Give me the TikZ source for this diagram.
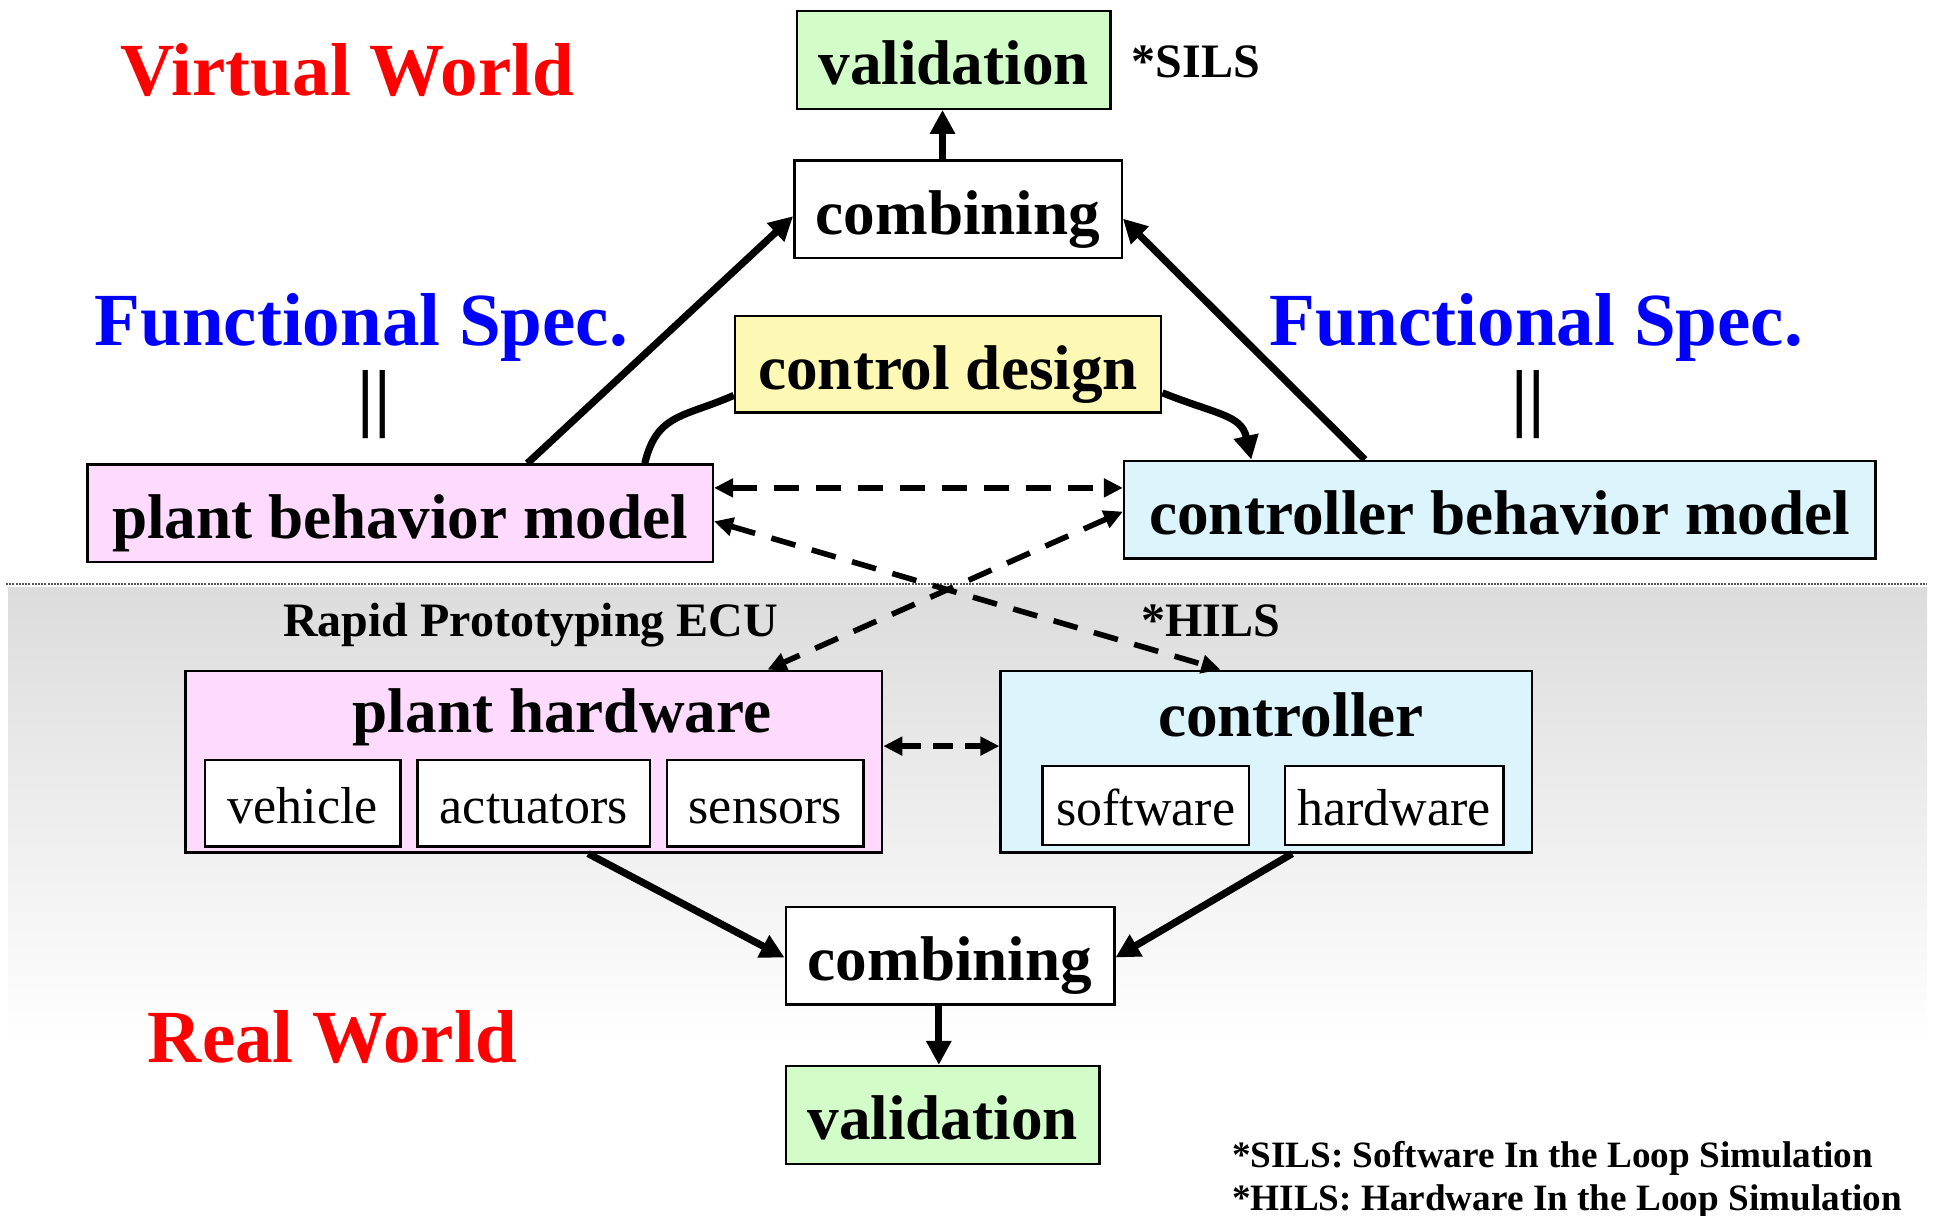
\documentclass[tikz,border=0pt]{standalone}
\usepackage{fontspec}
\setmainfont{Liberation Serif}
\usetikzlibrary{arrows.meta,calc}
\definecolor{valgreen}{HTML}{D2FDC8}
\definecolor{cdyellow}{HTML}{FDF9B4}
\definecolor{pinkfill}{HTML}{FEDBFE}
\definecolor{cyanfill}{HTML}{DCF5FC}
\definecolor{bggray}{HTML}{DCDCDC}
\definecolor{dotgray}{HTML}{555555}
\newcommand{\boxfont}{\fontsize{31.6}{36}\selectfont\bfseries}
\newcommand{\subfont}{\fontsize{26}{30}\selectfont}
\newcommand{\headfont}{\fontsize{37.5}{40}\selectfont\bfseries}
\newcommand{\lblfont}{\fontsize{24}{28}\selectfont\bfseries}
\newcommand{\notefont}{\fontsize{18.6}{22}\selectfont\bfseries}
\begin{document}
\begin{tikzpicture}[x=0.5pt,y=-0.5pt,
  box/.style={draw=black, line width=1.2pt, inner sep=0pt, text height=27pt, text depth=2pt, font=\boxfont},
  subbox/.style={draw=black, line width=1.2pt, fill=white, inner sep=0pt, text height=22pt, text depth=2pt, font=\subfont},
  thickarrow/.style={line width=3.6pt, -{Triangle[length=12pt,width=12pt]}},
  thickline/.style={line width=3.6pt},
  dasharrow/.style={line width=2.8pt, dash pattern=on 12.5pt off 8.5pt, {Triangle[length=9.5pt,width=9pt]}-{Triangle[length=9.5pt,width=9pt]}},
  heading/.style={font=\headfont, inner sep=0pt, anchor=base},
  lbl/.style={font=\lblfont, inner sep=0pt, anchor=base},
  note/.style={font=\notefont, inner sep=0pt, anchor=base west},
]
\useasboundingbox (0,0) rectangle (1937,1215);
\fill[white] (0,0) rectangle (1937,1215);
% real-world background
\shade[top color=bggray, bottom color=white] (8,587) rectangle (1927,1045);
\draw[dotgray, line width=1pt, dash pattern=on 1pt off 0.6pt] (6,584) -- (1927,584);

% headings
\node[heading, red] (vw) at (347.1,95.1) {Virtual World};
\node[heading, red] (rw) at (332.3,1062.4) {Real World};
\node[heading, blue] (fsl) at (361.3,345.9) {Functional Spec.};
\node[heading, blue] (fsr) at (1536.1,345.9) {Functional Spec.};
\node[font=\headfont, inner sep=0pt] (eql) at (374.3,404.6) {||};
\node[font=\headfont, inner sep=0pt] (eqr) at (1528.1,404.6) {||};

% virtual world boxes
\node[box, fill=valgreen, minimum width=156.9pt, minimum height=48.8pt] (valTop) at (953.7,59.9) {validation};
\node[lbl, anchor=base west] (sils) at (1131.5,77.8) {*SILS};
\node[box, fill=white, minimum width=163.7pt, minimum height=48.8pt] (combTop) at (958,209.4) {combining};
\node[box, fill=cdyellow, minimum width=213.1pt, minimum height=48.2pt] (ctrlDesign) at (948.1,364.4) {control design};
\node[box, fill=pinkfill, minimum width=312.6pt, minimum height=48.8pt] (plantBM) at (400.2,513.3) {plant behavior model};
\node[box, fill=cyanfill, minimum width=375.6pt, minimum height=48.8pt] (ctrlBM) at (1499.7,509.6) {controller behavior model};

% real world boxes
\node[lbl] (rpecu) at (530.6,636.2) {Rapid Prototyping ECU};
\node[lbl] (hils) at (1210.6,636.2) {*HILS};
\node[box, fill=pinkfill, minimum width=348.4pt, minimum height=90.8pt] (plantHW) at (533.7,761.6) {};
\node[box, fill=cyanfill, minimum width=265.6pt, minimum height=90.8pt] (ctrlHW) at (1266.2,761.6) {};
\node[font=\boxfont, inner sep=0pt, anchor=base] (phTitle) at (562,732.5) {plant hardware};
\node[font=\boxfont, inner sep=0pt, anchor=base] (chTitle) at (1290.9,736.2) {controller};
\node[subbox, minimum width=97.6pt, minimum height=43.3pt] (vehicle) at (302.7,803) {vehicle};
\node[subbox, minimum width=116.2pt, minimum height=43.3pt] (actuators) at (533.7,803) {actuators};
\node[subbox, minimum width=98.2pt, minimum height=43.3pt] (sensors) at (765.3,803) {sensors};
\node[subbox, minimum width=103.2pt, minimum height=39.6pt] (software) at (1145.8,805.5) {software};
\node[subbox, minimum width=109.4pt, minimum height=39.6pt] (hardware) at (1394.1,805.5) {hardware};
\node[box, fill=white, minimum width=164.3pt, minimum height=48.8pt] (combBot) at (950,955.5) {combining};
\node[box, fill=valgreen, minimum width=156.9pt, minimum height=48.8pt] (valBot) at (942.6,1114.9) {validation};

% footnotes
\node[note] (n1) at (1231.6,1167.4) {*SILS: Software In the Loop Simulation};
\node[note] (n2) at (1231.6,1210.6) {*HILS: Hardware In the Loop Simulation};

% helper coordinates
\coordinate (tx) at (942.5,0);
\coordinate (vx) at (938.8,0);
\coordinate (hy) at (0,487.9);

% virtual world connectors
\draw[thickarrow] (combTop.north -| tx) -- (valTop.south -| tx);
\draw[thickarrow] ([xshift=63.6pt]plantBM.north) -- ([yshift=-3.4pt]combTop.west);
\draw[thickarrow] ([xshift=-67.4pt]ctrlBM.north) -- ([yshift=-4.6pt]combTop.east);
\draw[thickline] ([xshift=122.3pt]plantBM.north) .. controls +(12,-50) and +(-50,22) .. ([yshift=-15.5pt]ctrlDesign.west);
\draw[thickarrow] ([yshift=-14.2pt]ctrlDesign.east) .. controls +(55,22) and +(-10,-45) .. ([xshift=-124.2pt]ctrlBM.north);
\draw[dasharrow] (plantBM.east |- hy) -- (ctrlBM.west |- hy);
\draw[dasharrow] ([yshift=-4pt]plantBM.east) -- ([xshift=-22.9pt]ctrlHW.north);
\draw[dasharrow] ([yshift=-1pt]ctrlBM.west) -- ([xshift=116.9pt]plantHW.north);

% real world connectors
\draw[dasharrow, dash pattern=on 10pt off 6pt] ([yshift=7.75pt]plantHW.east) -- ([yshift=7.75pt]ctrlHW.west);
\draw[thickarrow] ([xshift=27.2pt]plantHW.south) -- ([yshift=-1pt]combBot.west);
\draw[thickarrow] ([xshift=13pt]ctrlHW.south) -- ([yshift=-1pt]combBot.east);
\draw[thickarrow] (combBot.south -| vx) -- (valBot.north -| vx);
\end{tikzpicture}
\end{document}
